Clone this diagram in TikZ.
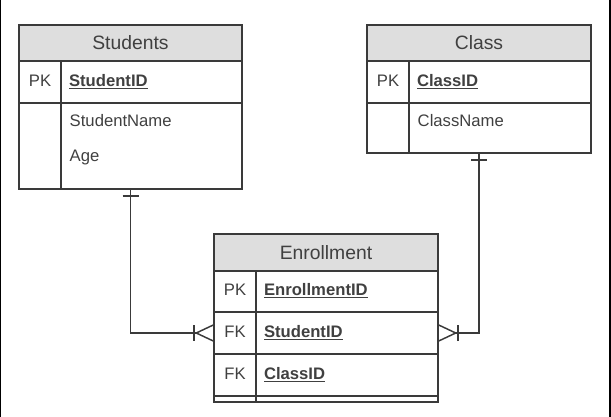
\documentclass[tikz,border=0pt]{standalone}
\usepackage{fontspec}
\setmainfont{Liberation Sans}
\usepackage{xcolor}
\usetikzlibrary{positioning, arrows.meta, decorations.markings}

\newlength{\pxu}
\setlength{\pxu}{0.75pt}
\newcommand{\headfont}{\fontsize{14.5}{17}\selectfont}
\newcommand{\fieldfont}{\fontsize{12.5}{15}\selectfont}
\newcommand{\keyname}[1]{\textbf{\underline{#1}}}

\definecolor{edgegray}{HTML}{3A3A3A}
\definecolor{headfill}{HTML}{DEDEDE}
\definecolor{txtgray}{HTML}{404040}

\tikzset{
    tblhead/.style={draw=edgegray, fill=headfill, text=txtgray, font=\headfont,
        minimum height=36\pxu, inner sep=0pt, outer sep=0pt, anchor=north west},
    keycell/.style={draw=edgegray, text=txtgray, font=\fieldfont, minimum width=42\pxu,
        inner sep=0pt, outer sep=0pt, text height=1.6ex, text depth=0.4ex},
    fieldcell/.style={draw=edgegray, text=txtgray, font=\fieldfont, inner xsep=8\pxu,
        inner ysep=0pt, outer sep=0pt, align=left, text height=1.6ex, text depth=0.4ex},
    fieldtext/.style={text=txtgray, font=\fieldfont, inner sep=0pt, anchor=west},
    oneend/.style={postaction={decorate, decoration={markings,
        mark=at position 5.25pt with {\draw[-] (0,-6pt) -- (0,6pt);}}}},
    manyend/.style={-{Bar[width=12pt] Straight Barb[reversed, length=12.75pt, width=12pt]}},
    link/.style={draw=edgegray, line width=1.1pt}
}

\begin{document}
\begin{tikzpicture}[x=0.75pt, y=-0.75pt, line width=1.1pt]
    \useasboundingbox (0,0) rectangle (611,417);
    \fill[black] (0,0) rectangle (1.5,417);
    \fill[black] (608.5,0) rectangle (611,417);

    % Students
    \node (S) [tblhead, minimum width=223\pxu] at (19,25) {Students};
    \node (Skpk) [keycell, minimum height=42\pxu, below right=0pt and 0pt of S.south west] {PK};
    \node (Sfpk) [fieldcell, text width=165\pxu, minimum height=42\pxu, right=0pt of Skpk] {\keyname{StudentID}};
    \node (Skattr) [keycell, minimum height=86\pxu, below=0pt of Skpk] {};
    \node (Sfattr) [fieldcell, text width=165\pxu, minimum height=86\pxu, right=0pt of Skattr] {};
    \node (Sname) [fieldtext] at ([xshift=8\pxu, yshift=-18\pxu]Sfattr.north west) {StudentName};
    \node (Sage) [fieldtext] at ([xshift=8\pxu, yshift=-54\pxu]Sfattr.north west) {Age};

    % Class
    \node (C) [tblhead, minimum width=224\pxu] at (367,25) {Class};
    \node (Ckpk) [keycell, minimum height=42\pxu, below right=0pt and 0pt of C.south west] {PK};
    \node (Cfpk) [fieldcell, text width=166\pxu, minimum height=42\pxu, right=0pt of Ckpk] {\keyname{ClassID}};
    \node (Ckattr) [keycell, minimum height=50\pxu, below=0pt of Ckpk] {};
    \node (Cfattr) [fieldcell, text width=166\pxu, minimum height=50\pxu, right=0pt of Ckattr] {};
    \node (Cname) [fieldtext] at ([xshift=8\pxu, yshift=-18\pxu]Cfattr.north west) {ClassName};

    % Enrollment
    \node (E) [tblhead, minimum width=224\pxu, minimum height=37\pxu] at (214,234) {Enrollment};
    \node (Ekpk) [keycell, minimum height=41\pxu, below right=0pt and 0pt of E.south west] {PK};
    \node (Efpk) [fieldcell, text width=166\pxu, minimum height=41\pxu, right=0pt of Ekpk] {\keyname{EnrollmentID}};
    \node (Eksid) [keycell, minimum height=42\pxu, below=0pt of Ekpk] {FK};
    \node (Efsid) [fieldcell, text width=166\pxu, minimum height=42\pxu, right=0pt of Eksid] {\keyname{StudentID}};
    \node (Ekcid) [keycell, minimum height=42\pxu, below=0pt of Eksid] {FK};
    \node (Efcid) [fieldcell, text width=166\pxu, minimum height=42\pxu, right=0pt of Ekcid] {\keyname{ClassID}};
    \node (Ekend) [keycell, minimum height=6\pxu, text height=0pt, text depth=0pt, below=0pt of Ekcid] {};
    \node (Efend) [fieldcell, text width=166\pxu, minimum height=6\pxu, text height=0pt, text depth=0pt, right=0pt of Ekend] {};

    % Edges
    \draw[link, oneend, manyend] (S.south |- Sfattr.south) |- (Eksid.west);
    \draw[link, oneend, manyend] (C.south |- Cfattr.south) |- (Efsid.east);
\end{tikzpicture}
\end{document}
